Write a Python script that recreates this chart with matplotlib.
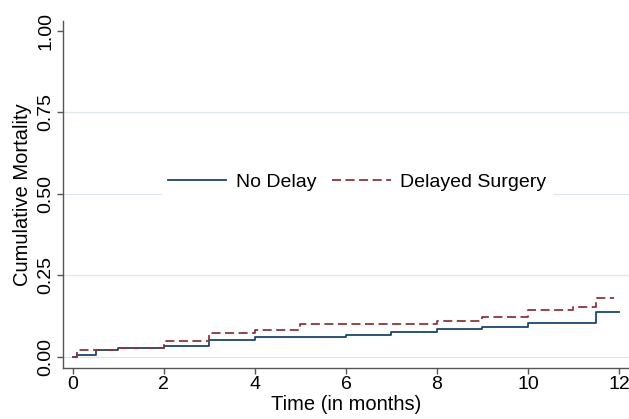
import matplotlib
matplotlib.use("Agg")
import matplotlib.pyplot as plt

# step points (months, cumulative mortality)
no_delay_t = [0, 0.1, 0.5, 1, 2, 3, 4, 6, 7, 8, 9, 10, 11.5, 12]
no_delay = [0, 0.007, 0.02, 0.027, 0.033, 0.051, 0.062, 0.067, 0.077, 0.085, 0.093, 0.103, 0.138, 0.138]

delayed_t = [0, 0.1, 1, 2, 3, 4, 5, 8, 9, 10, 11, 11.5, 11.9]
delayed = [0, 0.02, 0.027, 0.05, 0.072, 0.083, 0.10, 0.11, 0.122, 0.144, 0.154, 0.181, 0.181]

x_ticks = [0, 2, 4, 6, 8, 10, 12]
y_ticks = [0, 0.25, 0.5, 0.75, 1.0]
y_tick_labels = ["0.00", "0.25", "0.50", "0.75", "1.00"]

plt.rcParams["font.family"] = ["Liberation Sans", "DejaVu Sans"]

navy = "#1a476f"
maroon = "#90353b"
axis_grey = "#555555"

fig = plt.figure(figsize=(6.29, 4.19), dpi=100)
ax = fig.add_axes([0.1, 0.1217, 0.9, 0.828])

# light gridlines, none at the top
for y in y_ticks[:-1]:
    ax.axhline(y, color="#dde7ec", lw=0.9, zorder=0)

ax.step(no_delay_t, no_delay, where="post", color=navy, lw=1.3, label="No Delay")
ax.step(delayed_t, delayed, where="post", color=maroon, lw=1.3,
        dashes=(5, 2.5), label="Delayed Surgery")

ax.set_xlim(-0.22, 12.22)
ax.set_ylim(-0.034, 1.03)
ax.set_xticks(x_ticks)
ax.set_yticks(y_ticks)
ax.set_yticklabels(y_tick_labels, rotation=90, va="center")

for side in ["top", "right"]:
    ax.spines[side].set_visible(False)
for side in ["left", "bottom"]:
    ax.spines[side].set_color(axis_grey)
    ax.spines[side].set_linewidth(1.0)

ax.tick_params(axis="both", colors=axis_grey, length=4.5, width=1.0, labelsize=14,
               labelcolor="black", pad=1.5)

ax.set_xlabel("Time (in months)", fontsize=14.5, labelpad=1.5)
ax.set_ylabel("Cumulative Mortality", fontsize=14.5, labelpad=4)

leg = ax.legend(loc="center", bbox_to_anchor=(0.52, 0.535), ncol=2, fontsize=14,
                frameon=True, facecolor="white", edgecolor="white", framealpha=1,
                fancybox=False, handlelength=3.0, columnspacing=0.8,
                handletextpad=0.5, borderpad=0.3)

fig.savefig("out.png", dpi=100)
